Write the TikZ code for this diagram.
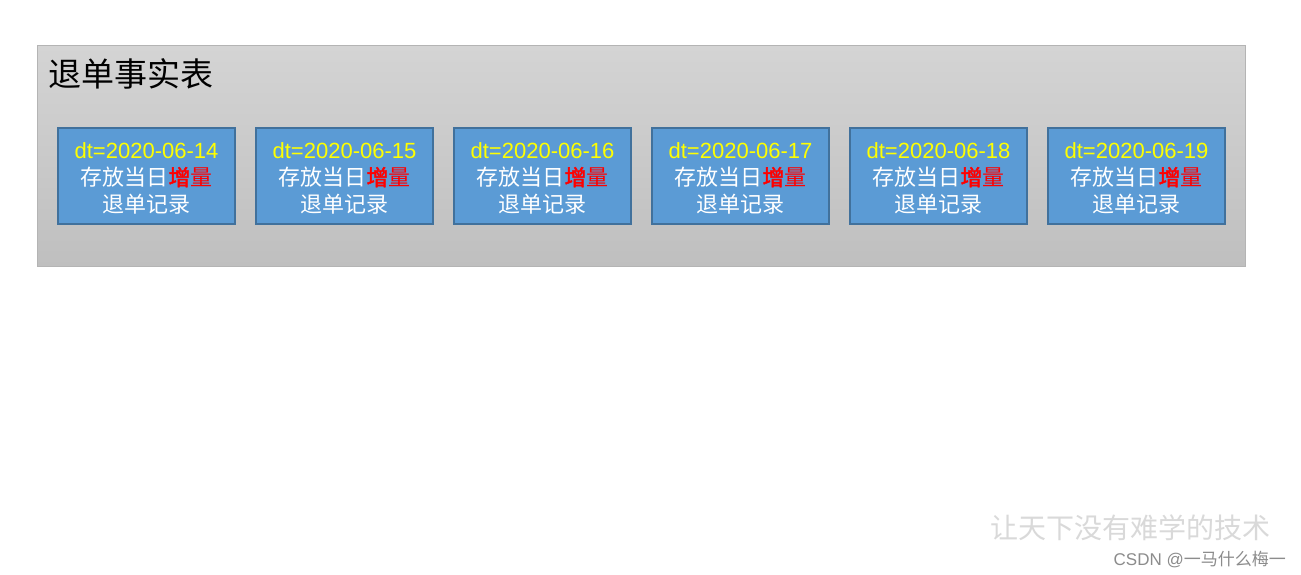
\documentclass[tikz,border=0pt]{standalone}
\usepackage{fontspec}
\setmainfont{Liberation Sans}
\newfontfamily\cjk{Noto Sans CJK SC}
\newfontfamily\cjkb{Noto Sans CJK SC}[FakeBold=2]
\definecolor{outerline}{HTML}{B4B4B4}
\definecolor{outertop}{HTML}{D4D4D4}
\definecolor{outerbot}{HTML}{BFBFBF}
\definecolor{boxfill}{HTML}{5B9BD5}
\definecolor{boxline}{HTML}{41719C}
\definecolor{dtyellow}{HTML}{FFFF00}
\definecolor{incred}{HTML}{FF0000}
\definecolor{wmark}{HTML}{D9D9D9}
\definecolor{wtext}{HTML}{8C8C8C}
\tikzset{
  tablebox/.style={draw=outerline, line width=1pt, top color=outertop, bottom color=outerbot, minimum width=1208pt, minimum height=221pt, inner sep=0pt, anchor=north west},
  partbox/.style={draw=boxline, fill=boxfill, line width=1.3pt, minimum width=177pt, minimum height=96pt, inner sep=0pt},
  parttext/.style={align=center, text=white, inner sep=0pt, font=\fontsize{22}{27}\selectfont},
  titletext/.style={font=\cjk\fontsize{33}{38}\selectfont, anchor=west, inner sep=0pt},
}
\begin{document}
\begin{tikzpicture}[x=1pt,y=-1pt]
\useasboundingbox[fill=white] (0,0) rectangle (1301,575);
\node[tablebox] (table) at (37,45) {};
\node[titletext] (title) at (48,74) {退单事实表};
\foreach \i/\d in {1/14,2/15,3/16,4/17,5/18,6/19}{
  \node[partbox] (b\i) at ({146.5+198*(\i-1)},176) {};
  \node[parttext] (t\i) at ([yshift=-2.5pt]b\i.center) {{\color{dtyellow}dt=2020-06-\d}\\{\cjk 存放当日}{\color{incred}{\cjkb 增}{\cjk 量}}\\{\cjk 退单记录}};
}
\node[font=\cjk\fontsize{28}{30}\selectfont, text=wmark, anchor=west, inner sep=0pt] (wm) at (990,528) {让天下没有难学的技术};
\node[font=\cjk\fontsize{17}{19}\selectfont, text=wtext, anchor=east, inner sep=0pt] (csdn) at (1286,560) {\fontspec{Liberation Sans}CSDN @\cjk 一马什么梅一};
\end{tikzpicture}
\end{document}
